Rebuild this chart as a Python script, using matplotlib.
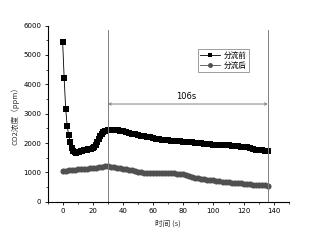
import matplotlib
matplotlib.use("Agg")
import matplotlib.pyplot as plt
from matplotlib.ticker import MultipleLocator

plt.rcParams['font.family'] = ['DejaVu Sans', 'Noto Sans CJK SC']

# 分流前 (before split)
t_before = [0, 1, 2, 3, 4, 5, 6, 7, 8, 9, 10, 11, 12, 13, 14, 15, 16, 17, 18, 19,
            20, 21, 22, 23, 24, 25, 26, 27, 28, 29, 30, 31, 32, 33, 34, 35, 36, 37, 38, 39,
            40, 42, 44, 46, 48, 50, 52, 54, 56, 58, 60, 62, 64, 66, 68, 70, 72, 74, 76, 78,
            80, 82, 84, 86, 88, 90, 92, 94, 96, 98, 100, 102, 104, 106, 108, 110, 112, 114,
            116, 118, 120, 122, 124, 126, 128, 130, 132, 134, 136]
v_before = [5450, 4220, 3170, 2590, 2260, 2040, 1840, 1720, 1680, 1670, 1680, 1700, 1720,
            1740, 1760, 1770, 1780, 1790, 1800, 1810, 1830, 1870, 1940, 2040, 2150, 2250,
            2320, 2370, 2400, 2420, 2435, 2445, 2450, 2450, 2450, 2445, 2440, 2430, 2420,
            2410, 2395, 2370, 2345, 2320, 2295, 2270, 2250, 2230, 2210, 2190, 2170, 2150,
            2135, 2120, 2105, 2090, 2080, 2070, 2060, 2055, 2050, 2040, 2030, 2020, 2010,
            2000, 1990, 1980, 1970, 1960, 1945, 1940, 1935, 1930, 1925, 1920, 1910, 1900,
            1890, 1880, 1875, 1860, 1840, 1800, 1775, 1760, 1750, 1745, 1740]

# 分流后 (after split)
t_after = [0, 2, 4, 6, 8, 10, 12, 14, 16, 18, 20, 22, 24, 26, 28, 30, 32, 34, 36, 38, 40,
           42, 44, 46, 48, 50, 52, 54, 56, 58, 60, 62, 64, 66, 68, 70, 72, 74, 76, 78, 80,
           82, 84, 86, 88, 90, 92, 94, 96, 98, 100, 102, 104, 106, 108, 110, 112, 114, 116,
           118, 120, 122, 124, 126, 128, 130, 132, 134, 136]
v_after = [1050, 1060, 1070, 1080, 1090, 1100, 1110, 1120, 1130, 1140, 1150, 1165, 1180,
           1195, 1210, 1205, 1190, 1175, 1160, 1145, 1130, 1110, 1090, 1070, 1050, 1030,
           1010, 995, 985, 975, 970, 965, 965, 965, 965, 965, 965, 965, 960, 955, 940, 910,
           870, 840, 815, 795, 780, 770, 755, 745, 735, 720, 705, 690, 680, 665, 655, 645,
           635, 625, 615, 605, 595, 585, 575, 565, 560, 555, 550]

label_before = "分流前"
label_after = "分流后"
span_start, span_end = 30, 136
span_level = 3330
span_text = "106s"

fig = plt.figure(figsize=(3.15, 2.44), dpi=100)
ax = fig.add_axes([0.151, 0.173, 0.766, 0.722])

ax.plot(t_before, v_before, color='black', lw=0.6, marker='s', ms=4.2,
        markeredgewidth=0, label=label_before)
ax.plot(t_after, v_after, color='#505050', lw=0.6, marker='o', ms=4.4,
        markeredgewidth=0, label=label_after)

grey = '#808080'
ax.plot([span_start, span_start], [0, 5850], color=grey, lw=0.7)
ax.plot([span_end, span_end], [0, 5850], color=grey, lw=0.7)
ax.annotate('', xy=(span_start, span_level), xytext=(span_end, span_level),
            arrowprops=dict(arrowstyle='<->', color=grey, lw=0.7, mutation_scale=4,
                            shrinkA=0, shrinkB=0))
ax.text((span_start + span_end) / 2 - 1, span_level + 110, span_text, ha='center',
        va='bottom', fontsize=6)

ax.set_xlim(-10, 150)
ax.set_ylim(0, 6000)
ax.xaxis.set_major_locator(MultipleLocator(20))
ax.xaxis.set_minor_locator(MultipleLocator(10))
ax.yaxis.set_major_locator(MultipleLocator(1000))
ax.yaxis.set_minor_locator(MultipleLocator(500))
ax.tick_params(which='major', direction='out', length=2.5, width=0.6, labelsize=5, pad=2)
ax.tick_params(which='minor', direction='out', length=1.5, width=0.5)
for s in ['top', 'right']:
    ax.spines[s].set_visible(False)
for s in ['left', 'bottom']:
    ax.spines[s].set_linewidth(0.8)

cjk = ['Noto Sans CJK SC', 'DejaVu Sans']
ax.set_ylabel("CO2浓度（ppm）", fontsize=5.5, family=cjk, labelpad=3, color='#333333')
ax.set_xlabel("时间 (s)", fontsize=5.5, family=cjk, labelpad=4, color='#333333')

leg = ax.legend(loc='upper right', bbox_to_anchor=(0.85, 0.89), prop={'family': cjk, 'size': 5.5},
                frameon=True, fancybox=False, edgecolor='#555555', handlelength=2.6,
                handletextpad=0.4, borderpad=0.35, labelspacing=0.3, markerscale=0.8)
leg.get_frame().set_linewidth(0.5)

fig.savefig('out.png', dpi=100)
